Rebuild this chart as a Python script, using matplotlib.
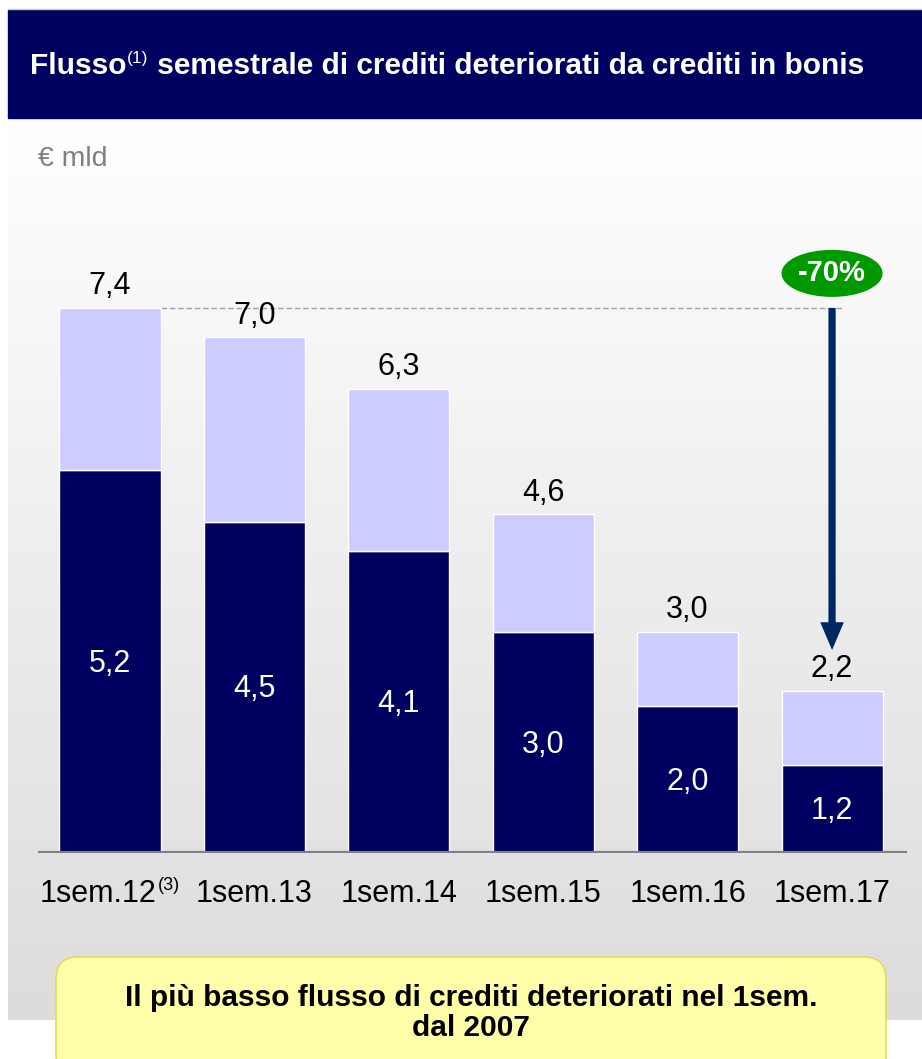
import numpy as np
import matplotlib.pyplot as plt
from matplotlib.colors import LinearSegmentedColormap
from matplotlib.patches import Rectangle, FancyBboxPatch, Ellipse

plt.rcParams["font.family"] = ["Liberation Sans", "DejaVu Sans"]

# --- data (€ mld) -------------------------------------------------------
periods = ["1sem.12", "1sem.13", "1sem.14", "1sem.15", "1sem.16", "1sem.17"]
bottom_vals = [5.2, 4.5, 4.1, 3.0, 2.0, 1.2]
totals = [7.4, 7.0, 6.3, 4.6, 3.0, 2.2]
change_label = "-70%"

NAVY = "#000060"
LIGHT = "#CCCCFF"

W, H = 922, 1059
fig = plt.figure(figsize=(W / 100, H / 100), dpi=100)

# background in pixel coords
bg = fig.add_axes([0, 0, 1, 1])
bg.set_xlim(0, W)
bg.set_ylim(H, 0)
bg.axis("off")

grad = np.linspace(0, 1, 256).reshape(-1, 1)
cmap = LinearSegmentedColormap.from_list("g", ["#FFFFFF", "#DCDCDC"])
bg.imshow(grad, cmap=cmap, extent=(8, W, 1020, 118), aspect="auto", zorder=0)
bg.add_patch(Rectangle((8, 10), W - 8, 108, color="#000060", zorder=1))
bg.plot([8, W], [9, 9], color="#C8C8C8", lw=1, zorder=1)

t = bg.text(30, 66, "Flusso", color="white", fontsize=21.5, fontweight="bold",
            va="center", ha="left", zorder=2)
sup = bg.annotate("(1)", xy=(1, 0.5), xycoords=t, xytext=(0.5, 0), textcoords="offset points",
                  color="white", fontsize=12.5, va="bottom", ha="left", zorder=2)
bg.annotate(" semestrale di crediti deteriorati da crediti in bonis", xy=(1, 0),
            xycoords=(sup, t), color="white", fontsize=21.5, fontweight="bold",
            va="bottom", ha="left", zorder=2)

bg.text(38, 159, "€ mld", color="#7F7F7F", fontsize=20.5, va="center", ha="left")

box = FancyBboxPatch((56, 957), 830, 120, boxstyle="round,pad=0,rounding_size=22",
                     facecolor="#FFFFAA", edgecolor="#E8D85A", lw=1.2, zorder=3)
bg.add_patch(box)
bg.text(471, 998, "Il più basso flusso di crediti deteriorati nel 1sem.",
        fontsize=21.5, fontweight="bold", ha="center", va="center", zorder=4)
bg.text(471, 1028, "dal 2007", fontsize=21.5, fontweight="bold",
        ha="center", va="center", zorder=4)

# --- chart axes ---------------------------------------------------------
px_per_unit = 73.65
ax_left, ax_right, ax_base, ax_top = 38, 907, 853, 200
ax = fig.add_axes([ax_left / W, (H - ax_base) / H, (ax_right - ax_left) / W,
                   (ax_base - ax_top) / H])
ax.patch.set_alpha(0)
ax.set_xlim(-0.4986, 5.519)
ax.set_ylim(0, (ax_base - ax_top) / px_per_unit)
ax.axis("off")

x = np.arange(len(periods))
width = 0.70
top_vals = [tv - bv for tv, bv in zip(totals, bottom_vals)]
ax.bar(x, bottom_vals, width, color=NAVY, edgecolor="white", lw=1, zorder=3)
ax.bar(x, top_vals, width, bottom=bottom_vals, color=LIGHT, edgecolor="white", lw=1, zorder=3)
ax.axhline(0, color="#808080", lw=3.0, zorder=4)

fmt = lambda v: f"{v:.1f}".replace(".", ",")
for xi, bv, tv in zip(x, bottom_vals, totals):
    ax.text(xi, bv / 2 - 0.03, fmt(bv), color="white", fontsize=22, ha="center", va="center", zorder=5)
    ax.text(xi, tv + 0.09, fmt(tv), color="black", fontsize=22, ha="center", va="bottom", zorder=5)

xlabels = []
for xi, lab in zip(x, periods):
    xlabels.append(ax.text(xi, -0.55, lab, fontsize=22, ha="center", va="center"))
xlabels[0].set_position((x[0] - 0.08, -0.55))
ax.annotate("(3)", xy=(1, 0.5), xycoords=xlabels[0], xytext=(0.5, 0),
            textcoords="offset points", fontsize=13, va="bottom", ha="left")

# reference line and arrow
ax.plot([x[0] + width / 2, x[-1] + 0.08], [totals[0], totals[0]], ls=(0, (4, 2)),
        color="#A0A0A0", lw=1, zorder=2)
ax.annotate("", xy=(x[-1], totals[-1] + 0.556), xytext=(x[-1], totals[0]),
            arrowprops=dict(arrowstyle="simple,head_width=0.85,head_length=1.0,tail_width=0.26",
                            mutation_scale=20, color="#002860", lw=0,
                            shrinkA=0, shrinkB=0), zorder=6)
ell_y = totals[0] + 0.47
ax.add_patch(Ellipse((x[-1], ell_y), 0.69, 0.62, color="#009900", zorder=6))
ax.text(x[-1], ell_y, change_label, color="white", fontsize=21, fontweight="bold",
        ha="center", va="center", zorder=7)

fig.savefig("out.png", dpi=100)
